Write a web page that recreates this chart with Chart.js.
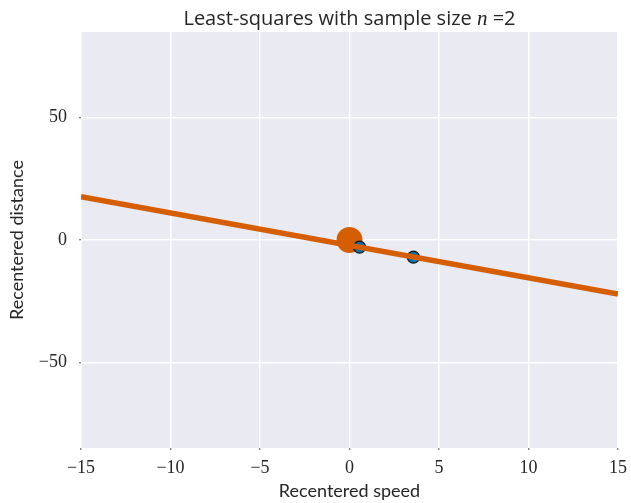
<!DOCTYPE html>
<html>
<head>
<meta charset="utf-8">
<script src="https://cdn.jsdelivr.net/npm/chart.js@4"></script>
<style>
html,body{margin:0;padding:0;background:#fff;}
#wrap{width:631px;height:503px;}
</style>
</head>
<body>
<div id="wrap"><canvas id="c" width="631" height="503"></canvas></div>
<script>
// Data
const sampleSpeed = [0.56, 3.57];
const sampleDistance = [-2.9, -7.0];
const centroidSpeed = [0];
const centroidDistance = [0];
const fitSpeed = [-15, 15];
const fitDistance = [17.7, -22.1];
const xTicks = [-15, -10, -5, 0, 5, 10, 15];
const yTicks = [-50, 0, 50];
const titleParts = ['Least-squares with sample size ', 'n', ' =2'];

const toPts = (xs, ys) => xs.map((x, i) => ({x: x, y: ys[i]}));
const fmt = v => String(v).replace('-', '\u2212');

const bgPlugin = {
  id: 'bg',
  beforeDraw(chart) {
    const {ctx, chartArea: a} = chart;
    ctx.save();
    ctx.fillStyle = '#EAEAF2';
    ctx.fillRect(a.left, a.top, a.right - a.left, a.bottom - a.top);
    ctx.restore();
  }
};

const titlePlugin = {
  id: 'mathTitle',
  afterDraw(chart) {
    const {ctx, chartArea: a} = chart;
    const fonts = ['20px "Open Sans"', 'italic 21px "Liberation Serif"', '20px "Open Sans"'];
    ctx.save();
    ctx.fillStyle = '#262626';
    ctx.textBaseline = 'alphabetic';
    ctx.textAlign = 'left';
    let widths = titleParts.map((t, i) => { ctx.font = fonts[i]; return ctx.measureText(t).width; });
    const total = widths.reduce((s, w) => s + w, 0);
    let x = (a.left + a.right) / 2 - total / 2;
    titleParts.forEach((t, i) => {
      ctx.font = fonts[i];
      ctx.fillText(t, x, 25);
      x += widths[i];
    });
    ctx.restore();
  }
};

new Chart(document.getElementById('c'), {
  type: 'scatter',
  plugins: [bgPlugin, titlePlugin],
  data: {
    datasets: [
      {
        type: 'line',
        data: toPts(fitSpeed, fitDistance),
        borderColor: '#D55E00',
        borderWidth: 5.5,
        pointRadius: 0,
        fill: false,
        order: 0
      },
      {
        data: toPts(sampleSpeed, sampleDistance),
        backgroundColor: '#0072B2',
        borderColor: '#111',
        borderWidth: 1.2,
        pointRadius: 6,
        order: 1
      },
      {
        data: toPts(centroidSpeed, centroidDistance),
        backgroundColor: '#D55E00',
        borderColor: '#D55E00',
        borderWidth: 0,
        pointRadius: 13,
        order: 2
      }
    ]
  },
  options: {
    responsive: false,
    animation: false,
    layout: {padding: {left: 0, right: 12, top: 32, bottom: 0}},
    plugins: {
      legend: {display: false},
      tooltip: {enabled: false},
      title: {display: false}
    },
    scales: {
      x: {
        type: 'linear',
        min: -15, max: 15,
        afterBuildTicks: s => { s.ticks = xTicks.map(v => ({value: v})); },
        afterFit: s => { s.height = 55; s.paddingRight = 0; s.paddingLeft = 0; },
        border: {display: false},
        grid: {color: '#ffffff', lineWidth: 1.5, drawTicks: true, tickLength: 2, tickColor: '#555', tickWidth: 1},
        ticks: {
          callback: v => fmt(v),
          color: '#262626',
          font: {family: 'Liberation Serif', size: 18},
          padding: 7,
          maxRotation: 0
        },
        title: {
          display: true,
          text: 'Recentered speed',
          color: '#262626',
          font: {family: 'Lato', size: 18},
          padding: {top: 0, bottom: 1}
        }
      },
      y: {
        type: 'linear',
        min: -85, max: 85,
        afterBuildTicks: s => { s.ticks = yTicks.map(v => ({value: v})); },
        afterFit: s => { s.width = 81; s.paddingTop = 0; s.paddingBottom = 0; },
        border: {display: false},
        grid: {color: '#ffffff', lineWidth: 1.5, drawTicks: true, tickLength: 2, tickColor: '#555', tickWidth: 1},
        ticks: {
          callback: v => fmt(v),
          color: '#262626',
          font: {family: 'Liberation Serif', size: 18},
          padding: 12
        },
        title: {
          display: true,
          text: 'Recentered distance',
          color: '#262626',
          font: {family: 'Lato', size: 18},
          padding: {top: 6, bottom: 0}
        }
      }
    }
  }
});
</script>
</body>
</html>
